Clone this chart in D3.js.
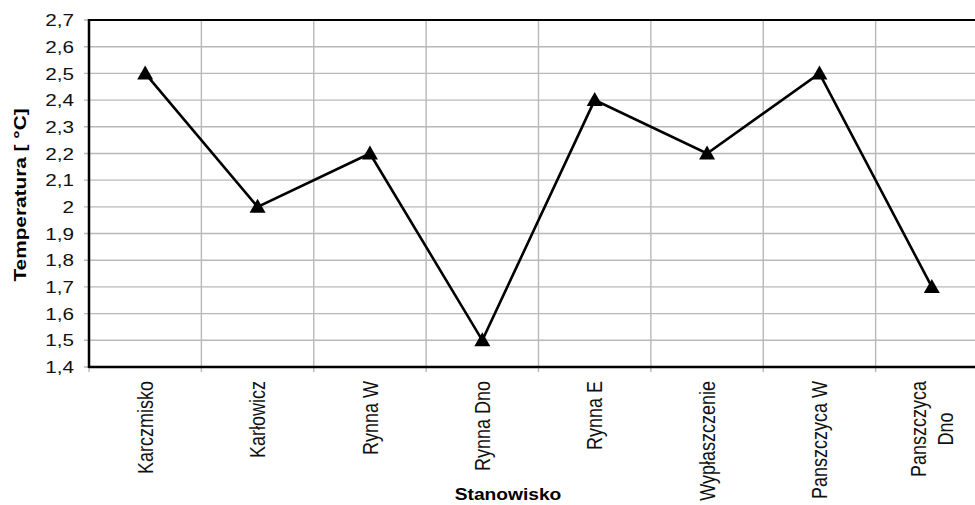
<!DOCTYPE html>
<html>
<head>
<meta charset="utf-8">
<script src="https://cdn.jsdelivr.net/npm/d3@7"></script>
<style>
  html, body { margin: 0; padding: 0; background: #fff; }
  svg { display: block; font-family: "Liberation Sans", Arial, sans-serif; }
</style>
</head>
<body>
<svg id="chart" width="975" height="505"></svg>
<script>
// ---- data ----
const categories = ["Karczmisko", "Karłowicz", "Rynna W", "Rynna Dno", "Rynna E", "Wypłaszczenie", "Panszczyca W", "Panszczyca\nDno"];
const temperatures = [2.5, 2.0, 2.2, 1.5, 2.4, 2.2, 2.5, 1.7];
const yTicks = [1.4, 1.5, 1.6, 1.7, 1.8, 1.9, 2.0, 2.1, 2.2, 2.3, 2.4, 2.5, 2.6, 2.7];
const yTitle = "Temperatura [ °C]";
const xTitle = "Stanowisko";

// ---- layout ----
const svg = d3.select("#chart");
const pLeft = 89, pRight = 988, pTop = 20, pBottom = 367;
const sx = 1.22; // horizontal stretch of the original picture

const x = d3.scaleBand().domain(categories).range([pLeft, pRight]).paddingInner(0).paddingOuter(0);
const y = d3.scaleLinear().domain([1.4, 2.7]).range([pBottom, pTop]);

const fmt = v => (Math.round(v * 10) / 10).toString().replace(".", ",");

// horizontal gridlines (+ left tick marks)
svg.append("g").selectAll("line").data(yTicks).join("line")
  .attr("x1", pLeft - 5).attr("x2", pRight)
  .attr("y1", d => y(d)).attr("y2", d => y(d))
  .attr("stroke", "#b8b8b8").attr("stroke-width", 1.4);

// vertical gridlines at category boundaries (+ bottom tick marks)
const bounds = categories.slice(1).map(c => x(c));
svg.append("g").selectAll("line").data(bounds).join("line")
  .attr("x1", d => d).attr("x2", d => d)
  .attr("y1", pTop).attr("y2", pBottom + 5)
  .attr("stroke", "#b8b8b8").attr("stroke-width", 1.4);
svg.append("line").attr("x1", pLeft).attr("x2", pLeft).attr("y1", pBottom).attr("y2", pBottom + 5)
  .attr("stroke", "#b8b8b8").attr("stroke-width", 1.4);

// frame
svg.append("line").attr("x1", pLeft).attr("x2", pRight).attr("y1", pTop).attr("y2", pTop)
  .attr("stroke", "#000").attr("stroke-width", 2.2);
svg.append("line").attr("x1", pLeft).attr("x2", pRight).attr("y1", pBottom).attr("y2", pBottom)
  .attr("stroke", "#000").attr("stroke-width", 2.5);
svg.append("line").attr("x1", pLeft).attr("x2", pLeft).attr("y1", pTop - 1).attr("y2", pBottom + 1)
  .attr("stroke", "#000").attr("stroke-width", 2.5);

// y tick labels
svg.append("g").selectAll("text").data(yTicks).join("text")
  .attr("transform", d => `translate(74,${y(d)}) scale(${sx},1)`)
  .attr("dy", "0.36em")
  .attr("text-anchor", "end")
  .attr("font-size", 17)
  .attr("fill", "#111")
  .text(d => fmt(d));

// x labels (rotated, top-aligned, multi-line centered)
const xl = svg.append("g").selectAll("text").data(categories).join("text")
  .attr("transform", d => `translate(${x(d) + x.bandwidth() / 2},381) scale(${sx},1) rotate(-90)`)
  .attr("font-size", 18)
  .attr("fill", "#111")
  .attr("text-anchor", "middle");
xl.each(function(d) {
  const t = d3.select(this);
  const lines = d.split("\n");
  const n = lines.length;
  const spans = lines.map((ln, i) => t.append("tspan")
    .attr("x", 0)
    .attr("y", 0)
    .attr("dy", ((i - (n - 1) / 2) * 1.2 + 0.35) + "em")
    .text(ln));
  const maxLen = d3.max(spans, s => s.node().getComputedTextLength());
  spans.forEach(s => s.attr("x", -maxLen / 2));
});

// axis titles
svg.append("text")
  .attr("transform", `translate(508,500) scale(1.2,1)`)
  .attr("text-anchor", "middle")
  .attr("font-size", 16)
  .attr("font-weight", "bold")
  .attr("fill", "#000")
  .text(xTitle);

svg.append("text")
  .attr("transform", `translate(26,195) rotate(-90) scale(1.3,1)`)
  .attr("text-anchor", "middle")
  .attr("font-size", 16)
  .attr("font-weight", "bold")
  .attr("fill", "#000")
  .text(yTitle);

// line
const line = d3.line()
  .x((d, i) => x(categories[i]) + x.bandwidth() / 2)
  .y(d => y(d));
svg.append("path").datum(temperatures)
  .attr("d", line)
  .attr("fill", "none")
  .attr("stroke", "#000")
  .attr("stroke-width", 2.6)
  .attr("stroke-linejoin", "miter");

// triangle markers
const tri = "M0,-8 L8,6 L-8,6 Z";
svg.append("g").selectAll("path").data(temperatures).join("path")
  .attr("transform", (d, i) => `translate(${x(categories[i]) + x.bandwidth() / 2},${y(d)})`)
  .attr("d", tri)
  .attr("fill", "#000");
</script>
</body>
</html>
